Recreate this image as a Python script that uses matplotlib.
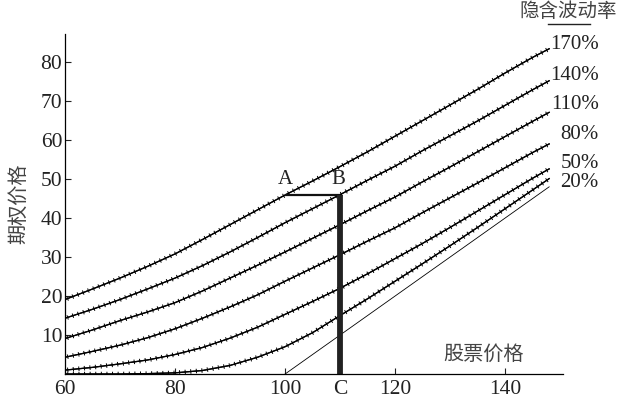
import matplotlib
matplotlib.use("Agg")
import matplotlib.pyplot as plt
import matplotlib.patheffects as pe
from matplotlib.lines import Line2D

plt.rcParams['font.family'] = ['Liberation Serif', 'Noto Sans CJK SC']

# stock price sample points (every 5 units)
stock = [60, 65, 70, 75, 80, 85, 90, 95, 100, 105, 110, 115, 120, 125, 130, 135, 140, 145, 148]

vol_labels = ['170%', '140%', '110%', '80%', '50%', '20%']
v170 = [19.1, 21.8, 24.6, 27.6, 30.8, 34.5, 38.3, 42.1, 45.9, 49.5, 53.2, 57.0, 61.0, 65.0, 69.0, 73.0, 77.2, 81.2, 83.4]
v140 = [14.3, 16.6, 19.1, 21.8, 24.6, 27.8, 31.3, 35.0, 38.8, 42.4, 46.0, 49.7, 53.3, 57.3, 61.1, 64.9, 68.9, 72.9, 75.2]
v110 = [9.1, 11.3, 13.7, 15.9, 18.3, 21.3, 24.6, 27.9, 31.3, 34.8, 38.3, 41.9, 45.4, 49.3, 53.1, 57.0, 60.9, 64.8, 67.1]
v80 = [4.3, 5.8, 7.4, 9.3, 11.6, 14.3, 17.2, 20.3, 23.8, 27.2, 30.6, 34.1, 37.5, 41.4, 45.2, 49.0, 52.9, 56.8, 59.0]
v50 = [1.0, 1.7, 2.6, 3.6, 5.0, 6.8, 9.2, 12.0, 15.3, 18.6, 22.0, 25.7, 29.6, 33.5, 37.6, 41.8, 46.0, 50.2, 52.6]
v20 = [0.0, 0.0, 0.0, 0.1, 0.3, 0.9, 2.2, 4.3, 7.0, 10.6, 15.0, 19.3, 23.8, 28.3, 32.9, 37.6, 42.4, 47.2, 50.1]
curves = [v170, v140, v110, v80, v50, v20]
label_y = [84.5, 76.5, 69, 61.5, 54, 49]

# intrinsic value line
intr_x = [100, 148]
intr_y = [0, 48]

# A-B-C construction
a_x, b_x, ab_y = 100, 110, 46

fig = plt.figure(figsize=(6.22, 4.01), dpi=100)
ax = fig.add_axes([0.1045, 0.0673, 0.8005, 0.848])

ticks = [pe.withTickedStroke(angle=90, spacing=4.0, length=0.32, linewidth=0.7),
         pe.withTickedStroke(angle=-90, spacing=4.0, length=0.32, linewidth=0.7)]
for ys in curves:
    ax.plot(stock, ys, color='black', lw=0.9, path_effects=ticks)

ax.plot(intr_x, intr_y, color='black', lw=0.6)

ax.plot([a_x, b_x], [ab_y, ab_y], color='#111111', lw=1.6, solid_capstyle='butt')
ax.plot([b_x, b_x], [0, ab_y], color='#222222', lw=4.2, solid_capstyle='butt')
ax.text(a_x, ab_y + 1.5, 'A', fontsize=15, ha='center', va='bottom', color='#222222')
ax.text(b_x - 0.3, ab_y + 1.5, 'B', fontsize=15, ha='center', va='bottom', color='#222222')

for lab, yl in zip(vol_labels, label_y):
    ax.text(157, yl, lab, fontsize=15, ha='right', va='center', color='#222222',
            clip_on=False)
ax.text(151.5, 92.8, '隐含波动率', fontsize=14, ha='center', va='center', color='#444444',
        clip_on=False)
fig.add_artist(Line2D([548 / 622, 590 / 622], [1 - 24 / 401, 1 - 24 / 401],
                     color='#222222', lw=1.0))

ax.text(136, 4.9, '股票价格', fontsize=14.5, ha='center', va='center', color='#444444')
ax.set_ylabel('期权价格', fontsize=14.5, color='#444444', labelpad=8)

ax.set_xlim(60, 150.5)
ax.set_ylim(0, 87.2)
ax.set_xticks([60, 80, 100, 110, 120, 140])
ax.set_xticklabels(['60', '80', '100', 'C', '120', '140'])
ax.set_yticks([10, 20, 30, 40, 50, 60, 70, 80])
ax.tick_params(direction='in', length=4, width=0.8, labelsize=15.5, colors='#222222', pad=4)
ax.tick_params(axis='y', pad=2)
ax.spines['top'].set_visible(False)
ax.spines['right'].set_visible(False)
for s in ('left', 'bottom'):
    ax.spines[s].set_linewidth(0.9)

fig.savefig('out.png', dpi=100)
